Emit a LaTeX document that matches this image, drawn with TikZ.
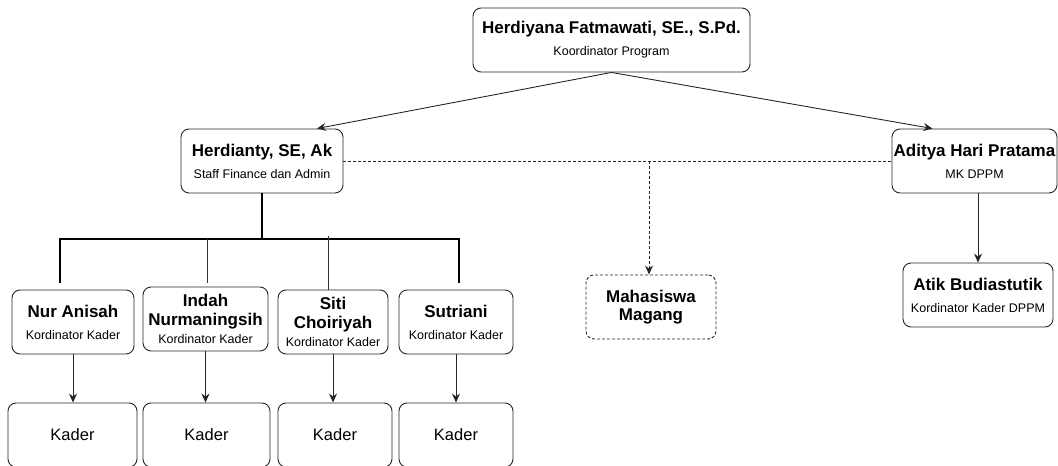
\documentclass[tikz,border=0pt]{standalone}
\usepackage{fontspec}
\setmainfont{Liberation Sans}
\usetikzlibrary{arrows.meta,calc}
\begin{document}
\begin{tikzpicture}[x=1pt,y=-1pt,
  box/.style={draw=black!85,line width=0.9pt,rounded corners=8pt,fill=white,
    inner sep=0pt,align=center,minimum height=64pt},
  dbox/.style={box,dashed,dash pattern=on 3pt off 2pt},
  nm/.style={font=\fontsize{17}{20}\selectfont\bfseries},
  arr/.style={draw=black!85,line width=0.9pt,-{Stealth[length=9pt,width=8pt,inset=3pt]}},
  dashln/.style={draw=black!85,line width=0.9pt,dash pattern=on 3pt off 2pt},
  thickln/.style={draw=black,line width=2.2pt},
  thinln/.style={draw=black!80,line width=0.9pt}]
\useasboundingbox (0,0) rectangle (1058,466);
\newcommand{\sub}[1]{{\fontsize{12.5}{15}\mdseries\selectfont #1}}
% nodes
\node[box,nm,minimum width=277pt] (top) at (611.5,40)
  {Herdiyana Fatmawati, SE., S.Pd.\\[2pt]\sub{Koordinator Program}};
\node[box,nm,minimum width=162pt] (herd) at (262,161)
  {Herdianty, SE, Ak\\[2pt]\sub{Staff Finance dan Admin}};
\node[box,nm,minimum width=165pt] (adit) at (974.5,161)
  {Aditya Hari Pratama\\[2pt]\sub{MK DPPM}};
\node[box,nm,minimum width=150pt] (atik) at (978,295)
  {Atik Budiastutik\\[2pt]\sub{Kordinator Kader DPPM}};
\node[dbox,nm,minimum width=130pt] (maha) at (651,307)
  {Mahasiswa\\[-2pt]Magang};
\node[box,nm,minimum width=122pt] (nur) at (73,322)
  {Nur Anisah\\[2pt]\sub{Kordinator Kader}};
\node[box,nm,minimum width=125pt] (indah) at (205.5,319)
  {Indah\\[-1pt]Nurmaningsih\\[-2pt]\sub{Kordinator Kader}};
\node[box,nm,minimum width=110pt] (siti) at (333,322)
  {Siti\\[-1pt]Choiriyah\\[-2pt]\sub{Kordinator Kader}};
\node[box,nm,minimum width=114pt] (sutr) at (456,322)
  {Sutriani\\[2pt]\sub{Kordinator Kader}};
\foreach \n/\cx/\w in {k1/72.5/129,k2/206.5/127,k3/335/114,k4/456/114}
  \node[box,minimum width=\w pt,font=\fontsize{16.5}{19}\selectfont] (\n) at (\cx,435) {Kader};
% connectors
\draw[arr] (top.south) -- ($(herd.north)+(55,0)$);
\draw[arr] (top.south) -- ($(adit.north)+(-42,0)$);
\draw[arr] (atik.north |- adit.south) -- (atik.north);
\draw[dashln] (herd.east) -- (adit.west);
\coordinate (mj) at (herd.east -| 649,0);
\draw[dashln,-{Stealth[length=9pt,width=8pt,inset=3pt]}] (mj) -- (mj |- maha.north);
% tree
\coordinate (barL) at (60,239);
\coordinate (barR) at (459,239);
\draw[thickln] (herd.south) -- (herd.south |- barL);
\draw[thickln,line cap=rect] (barL) -- (barR);
\draw[thickln] (barL) -- ($(barL |- nur.north)+(0,-7)$);
\draw[thickln] (barR) -- ($(barR |- sutr.north)+(0,-7)$);
\draw[thinln] (barL -| 207,0) -- ($(indah.north -| 207,0)+(0,-4)$);
\draw[thinln] ($(barL -| 328,0)+(0,-3)$) -- (siti.north -| 328,0);
\draw[arr] (nur.south) -- (nur.south |- k1.north);
\draw[arr] (indah.south) -- (indah.south |- k2.north);
\draw[arr] (siti.south) -- (siti.south |- k3.north);
\draw[arr] (sutr.south) -- (sutr.south |- k4.north);
\end{tikzpicture}
\end{document}
